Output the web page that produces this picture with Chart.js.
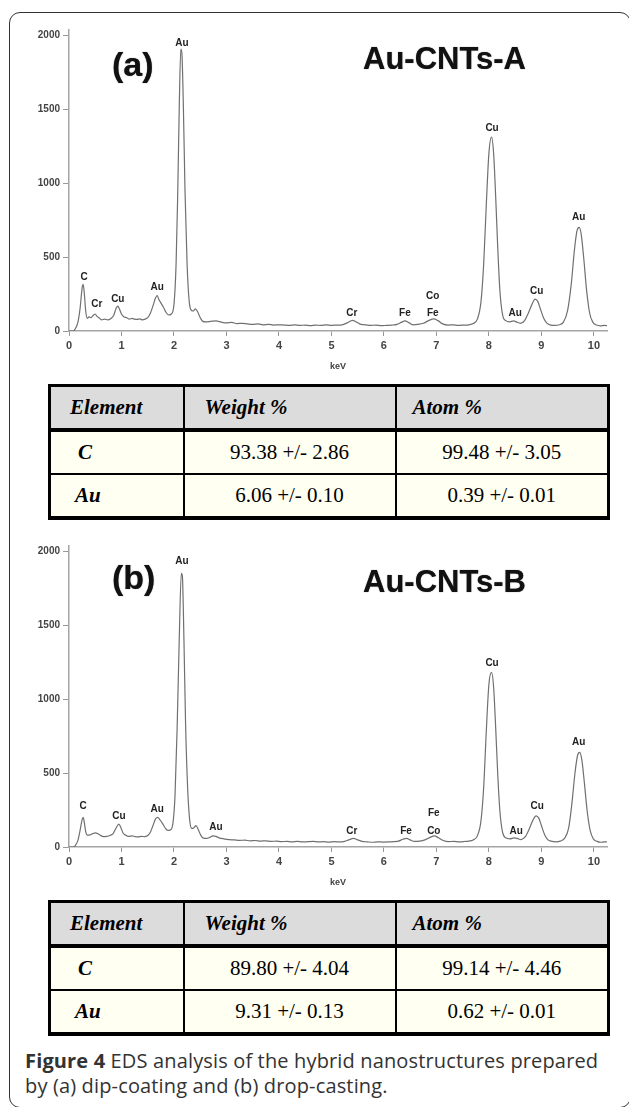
<!DOCTYPE html>
<html>
<head>
<meta charset="utf-8">
<script src="https://cdn.jsdelivr.net/npm/chart.js@4.4.0/dist/chart.umd.min.js"></script>
<style>
  body { margin: 0; width: 629px; height: 1107px; background: #fff; position: relative; overflow: hidden; font-family: "Liberation Sans", Arial, sans-serif; }
  .frame { position: absolute; left: 9px; top: 12px; width: 622px; height: 1096px; border: 1.5px solid #333; border-radius: 11px; box-sizing: border-box; }
  canvas { position: absolute; left: 0; }
  .panel { position: absolute; font-weight: bold; font-size: 34px; line-height: 34px; color: #111; text-shadow: 0 0 1px #555; }
  .sample { position: absolute; font-weight: bold; font-size: 31px; line-height: 31px; color: #111; text-shadow: 0 0 1px #555; }
  table.eds { position: absolute; left: 48px; width: 559px; border-collapse: collapse; font-family: "Liberation Serif", "Times New Roman", serif; font-size: 21px; color: #000; table-layout: fixed; }
  table.eds td { border: 2px solid #000; height: 41px; padding: 0; background: #fffff2; text-align: center; }
  table.eds tr.hd td { background: #dcdcdc; font-weight: bold; font-style: italic; text-align: left; border-bottom: 4px solid #000; border-top: 3px solid #000; }
  table.eds td.el { font-weight: bold; font-style: italic; text-align: left; }
  table.eds tr:last-child td { border-bottom: 4px solid #000; }
  table.eds td:first-child { border-left: 3px solid #000; }
  table.eds td:last-child { border-right: 3px solid #000; }
  .caption { position: absolute; left: 25px; top: 1048px; font-family: "Open Sans", sans-serif; font-size: 20px; line-height: 25px; letter-spacing: 0.15px; color: #333; }
</style>
</head>
<body>
<div class="frame"></div>

<canvas id="chartA" width="629" height="352" style="top:20px"></canvas>
<div class="panel" style="left:112px; top:47px">(a)</div>
<div class="sample" style="left:363px; top:43px">Au-CNTs-A</div>
<table class="eds" id="tableA" style="top:384px"></table>

<canvas id="chartB" width="629" height="352" style="top:536px"></canvas>
<div class="panel" style="left:112px; top:560px">(b)</div>
<div class="sample" style="left:363px; top:566px">Au-CNTs-B</div>
<table class="eds" id="tableB" style="top:900px"></table>

<div class="caption"><b>Figure 4</b> EDS analysis of the hybrid nanostructures prepared<br>by (a) dip-coating and (b) drop-casting.</div>

<script>
// EDS spectra (energy in keV, counts)
const keVA = [0.00,0.08,0.12,0.17,0.21,0.25,0.27,0.29,0.32,0.35,0.38,0.42,0.46,0.50,0.53,0.57,0.62,0.68,0.74,0.80,
  0.85,0.90,0.93,0.96,1.00,1.05,1.10,1.15,1.20,1.25,1.30,1.35,1.40,1.45,1.50,1.55,1.60,1.65,1.68,1.71,
  1.75,1.80,1.85,1.90,1.95,2.00,2.04,2.07,2.10,2.13,2.15,2.18,2.21,2.25,2.29,2.33,2.37,2.41,2.45,2.50,
  2.55,2.60,2.70,2.80,2.90,3.00,3.10,3.20,3.30,3.40,3.50,3.60,3.70,3.80,3.90,4.00,4.10,4.20,4.30,4.40,
  4.50,4.60,4.70,4.80,4.90,5.00,5.10,5.20,5.30,5.40,5.48,5.56,5.65,5.75,5.85,5.95,6.05,6.15,6.25,6.33,
  6.40,6.48,6.56,6.65,6.75,6.85,6.95,7.03,7.12,7.22,7.32,7.42,7.52,7.62,7.70,7.78,7.85,7.90,7.95,8.00,
  8.05,8.09,8.13,8.17,8.21,8.26,8.32,8.40,8.47,8.53,8.60,8.68,8.75,8.82,8.88,8.93,8.98,9.04,9.10,9.18,
  9.26,9.34,9.42,9.50,9.57,9.63,9.68,9.72,9.76,9.81,9.86,9.92,9.98,10.05,10.12,10.20,10.25];
const countsA = [0,0,15,60,150,290,315,260,130,85,95,90,105,115,100,90,75,80,75,85,
  105,155,168,150,115,95,90,80,85,80,78,82,75,80,90,120,170,225,240,215,
  190,160,125,108,115,180,450,900,1500,1905,1880,1500,950,450,200,140,135,150,130,90,
  65,62,65,68,60,55,58,50,52,48,45,48,42,45,40,42,40,38,42,38,
  40,36,40,38,42,38,40,42,55,72,60,45,42,38,40,36,38,40,45,58,
  68,55,42,45,52,70,82,70,48,40,42,38,40,42,50,80,200,450,850,1200,
  1310,1200,900,550,270,110,70,62,68,60,52,70,120,180,215,200,150,90,55,40,
  38,42,60,140,320,550,680,700,650,480,280,120,60,40,35,38,36];

const keVB = [0.00,0.08,0.12,0.17,0.21,0.25,0.27,0.29,0.32,0.35,0.40,0.45,0.50,0.55,0.60,0.66,0.72,0.78,0.84,0.90,
  0.95,0.99,1.03,1.08,1.14,1.20,1.26,1.32,1.38,1.44,1.50,1.55,1.60,1.65,1.69,1.73,1.78,1.83,1.88,1.93,
  1.98,2.02,2.06,2.10,2.14,2.16,2.19,2.22,2.26,2.30,2.34,2.38,2.42,2.46,2.51,2.56,2.62,2.68,2.74,2.80,
  2.86,2.95,3.05,3.15,3.25,3.35,3.45,3.55,3.65,3.75,3.85,3.95,4.05,4.15,4.25,4.35,4.45,4.55,4.65,4.75,
  4.85,4.95,5.05,5.15,5.25,5.33,5.42,5.50,5.58,5.68,5.78,5.88,5.98,6.08,6.18,6.28,6.36,6.43,6.50,6.58,
  6.68,6.78,6.88,6.96,7.04,7.13,7.23,7.33,7.43,7.53,7.62,7.70,7.78,7.85,7.90,7.95,8.00,8.05,8.09,8.13,
  8.17,8.21,8.26,8.32,8.40,8.48,8.54,8.61,8.69,8.76,8.83,8.90,8.95,9.00,9.06,9.12,9.20,9.28,9.36,9.44,
  9.52,9.58,9.64,9.69,9.73,9.77,9.82,9.87,9.93,9.99,10.06,10.13,10.20,10.25];
const countsB = [0,0,10,45,110,185,200,170,100,80,82,90,95,90,78,70,72,78,90,130,
  155,130,95,80,72,75,70,68,72,70,78,100,145,190,200,185,160,130,112,115,
  160,350,800,1400,1850,1830,1400,850,400,180,125,130,145,120,80,60,58,65,75,72,
  62,55,50,48,45,46,42,44,40,42,38,40,36,38,35,38,34,36,38,34,
  36,33,36,34,38,48,58,48,38,35,32,35,33,34,36,40,52,58,48,38,
  40,48,65,75,62,44,36,38,35,37,40,48,75,180,400,780,1100,1180,1080,800,
  480,240,100,62,55,62,58,50,68,115,175,210,195,145,85,50,38,35,40,58,
  130,290,500,620,640,590,430,250,110,55,38,32,35,34];

// peak labels: element, energy (keV), counts where the label sits
const peakNamesA = ["C","Cr","Cu","Au","Au","Cr","Fe","Co","Fe","Cu","Au","Cu","Au"];
const peakKeVA   = [0.29,0.53,0.93,1.68,2.15,5.39,6.40,6.93,6.93,8.06,8.50,8.91,9.71];
const peakYA     = [365,182,216,297,1947,122,122,237,122,1372,122,270,771];

const peakNamesB = ["C","Cu","Au","Au","Au","Cr","Fe","Fe","Co","Cu","Au","Cu","Au"];
const peakKeVB   = [0.27,0.95,1.68,2.15,2.80,5.39,6.42,6.95,6.95,8.06,8.52,8.92,9.71];
const peakYB     = [276,209,256,1932,135,108,108,229,108,1239,108,276,707];

const xTicks = [0,1,2,3,4,5,6,7,8,9,10];
const yTicks = [0,500,1000,1500,2000];

// composition tables
const tableHead = ["Element", "Weight %", "Atom %"];
const elements = ["C", "Au"];
const weightA = ["93.38 +/- 2.86", "6.06 +/- 0.10"];
const atomA   = ["99.48 +/- 3.05", "0.39 +/- 0.01"];
const weightB = ["89.80 +/- 4.04", "9.31 +/- 0.13"];
const atomB   = ["99.14 +/- 4.46", "0.62 +/- 0.01"];

const fam = '"Liberation Sans", Arial, sans-serif';

function fillTable(id, weight, atom) {
  const t = document.getElementById(id);
  let html = '<colgroup><col style="width:134px"><col style="width:212px"><col style="width:213px"></colgroup>';
  html += '<tr class="hd">' + tableHead.map((h, i) =>
    `<td style="padding-left:${i === 0 ? 19 : i === 1 ? 20 : 16}px">${h}</td>`).join('') + '</tr>';
  elements.forEach((el, i) => {
    html += `<tr><td class="el" style="padding-left:${el === "C" ? 27 : 24}px">${el}</td><td>${weight[i]}</td><td>${atom[i]}</td></tr>`;
  });
  t.innerHTML = html;
}

function makeChart(id, keV, counts, names, labelKeV, labelY) {
  const peakLabels = {
    id: 'peakLabels',
    afterDatasetsDraw(chart) {
      const { ctx, scales } = chart;
      ctx.save();
      ctx.font = 'bold 10px ' + fam;
      ctx.fillStyle = '#222';
      ctx.textAlign = 'center';
      ctx.textBaseline = 'middle';
      names.forEach((n, i) => {
        ctx.fillText(n, scales.x.getPixelForValue(labelKeV[i]), scales.y.getPixelForValue(labelY[i]));
      });
      ctx.restore();
    }
  };

  new Chart(document.getElementById(id).getContext('2d'), {
    type: 'line',
    data: {
      datasets: [{
        data: keV.map((x, i) => ({ x: x, y: counts[i] })),
        borderColor: '#707070',
        borderWidth: 1.2,
        pointRadius: 0,
        cubicInterpolationMode: 'monotone',
        fill: false
      }]
    },
    options: {
      responsive: false,
      animation: false,
      devicePixelRatio: 1,
      layout: { padding: { top: 10, right: 22, left: 0, bottom: 0 } },
      plugins: { legend: { display: false }, tooltip: { enabled: false } },
      scales: {
        x: {
          type: 'linear',
          min: 0,
          max: 10.25,
          afterBuildTicks: s => { s.ticks = xTicks.map(v => ({ value: v })); },
          afterFit: s => { s.height = 41; },
          grid: { drawOnChartArea: false, drawTicks: true, tickLength: 5, color: '#999', lineWidth: 1 },
          border: { display: true, color: '#a5a5a5', width: 1.5 },
          ticks: { autoSkip: false, maxRotation: 0, padding: 3, color: '#444', font: { family: fam, size: 11, weight: 'bold' }, callback: v => String(v) },
          title: { display: true, text: 'keV', color: '#444', padding: 0, font: { family: fam, size: 9, weight: 'bold' } }
        },
        y: {
          min: 0,
          max: 2034,
          afterBuildTicks: s => { s.ticks = yTicks.map(v => ({ value: v })); },
          afterFit: s => { s.width = 69; },
          grid: { drawOnChartArea: false, drawTicks: true, tickLength: 6, color: '#999', lineWidth: 1 },
          border: { display: true, color: '#a5a5a5', width: 1.5 },
          ticks: { autoSkip: false, padding: 3, color: '#444', font: { family: fam, size: 10, weight: 'bold' }, callback: v => String(v) }
        }
      }
    },
    plugins: [peakLabels]
  });
}

window.addEventListener("load", () => {
  fillTable("tableA", weightA, atomA);
  fillTable("tableB", weightB, atomB);
  makeChart("chartA", keVA, countsA, peakNamesA, peakKeVA, peakYA);
  makeChart("chartB", keVB, countsB, peakNamesB, peakKeVB, peakYB);
});
</script>
</body>
</html>
